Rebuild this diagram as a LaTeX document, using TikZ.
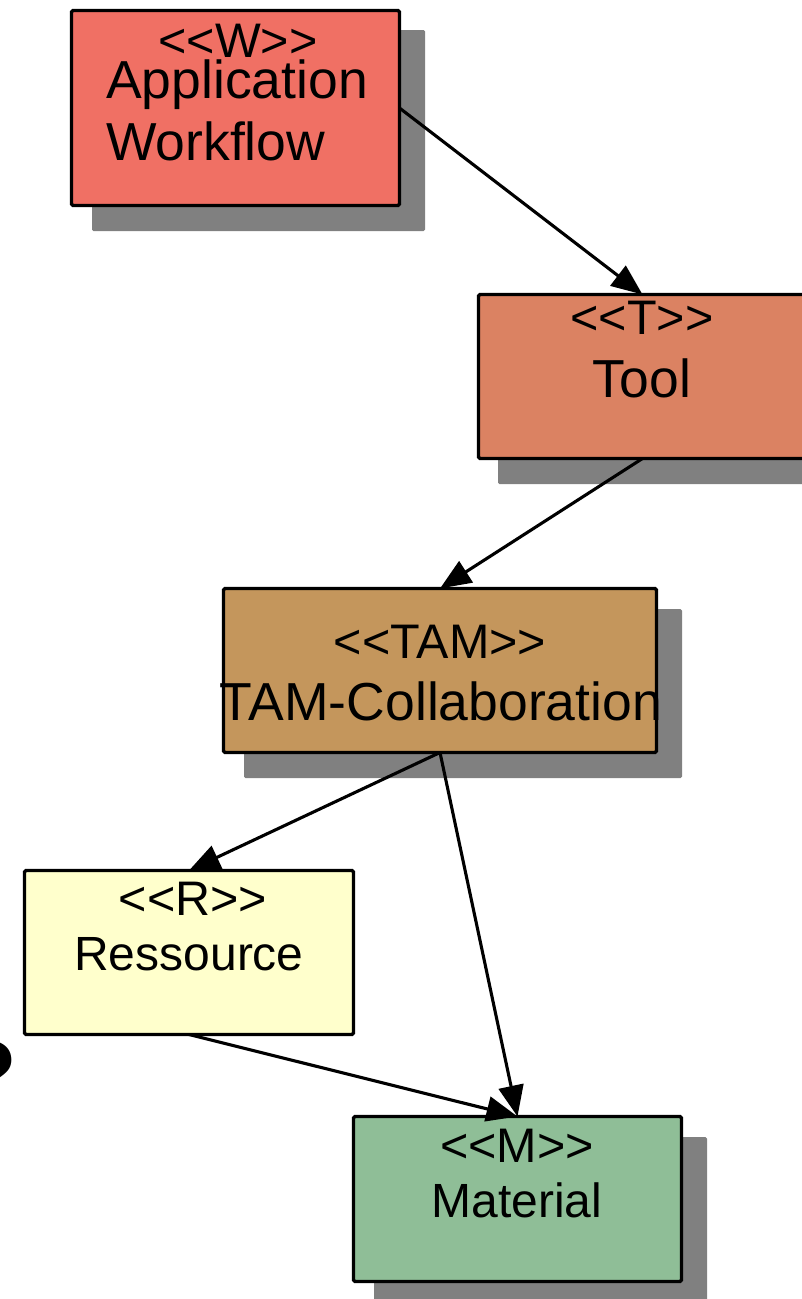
\documentclass[tikz,border=0pt]{standalone}
\usepackage{fontspec}
\setmainfont{Liberation Sans}
\newfontfamily\qfont{Liberation Sans}
\usetikzlibrary{arrows.meta}
\definecolor{cW}{RGB}{240,112,100}
\definecolor{cT}{RGB}{219,130,98}
\definecolor{cTAM}{RGB}{196,150,92}
\definecolor{cR}{RGB}{255,255,204}
\definecolor{cM}{RGB}{143,190,151}
\definecolor{shadowgray}{RGB}{128,128,128}
\newcommand{\stereo}[1]{<\kern0pt<#1>\kern0pt>}
\tikzset{
  box/.style={draw=black, line width=3.3pt, rounded corners=1.5pt, inner sep=0pt, outer sep=0pt},
  shd/.style={fill=shadowgray, rounded corners=1.5pt},
  sttext/.style={inner sep=0pt, anchor=base, font=\fontsize{48.5}{58}\selectfont},
  bigtext/.style={inner sep=0pt, anchor=base, font=\fontsize{53.5}{64}\selectfont},
  midtext/.style={inner sep=0pt, anchor=base, font=\fontsize{48}{58}\selectfont},
  conn/.style={line width=3.1pt, -{Triangle[length=31pt,width=25pt]}}
}
\begin{document}
\begin{tikzpicture}[x=1pt,y=-1pt]
\useasboundingbox (0,0) rectangle (801,1299);
% shadows
\fill[shd] (92,30) rectangle (425,231);
\fill[shd] (498,316) rectangle (830,484);
\fill[shd] (244,609) rectangle (682,778);
\fill[shd] (374,1137) rectangle (707,1305);
% boxes
\node[box, fill=cW, minimum width=328pt, minimum height=195pt] (W) at (235.5,108) {};
\node[box, fill=cT, minimum width=328pt, minimum height=164pt] (T) at (642.5,376.5) {};
\node[box, fill=cTAM, minimum width=433pt, minimum height=164pt] (TAM) at (440,670.5) {};
\node[box, fill=cR, minimum width=329pt, minimum height=164pt] (R) at (189,952.5) {};
\node[box, fill=cM, minimum width=328pt, minimum height=165pt] (M) at (517.5,1199) {};
% texts
\node[sttext] (Wst) at (238,57) {\stereo{W}};
\node[bigtext, anchor=base west] (Wn1) at (106,98) {Application};
\node[bigtext, anchor=base west] (Wn2) at (106,160) {Workflow};
\node[sttext] (Tst) at (642,334) {\stereo{T}};
\node[bigtext] (Tn) at (642,397) {Tool};
\node[sttext] (TAMst) at (440,658) {\stereo{TAM}};
\node[bigtext] (TAMn) at (441,720) {TAM-Collaboration};
\node[sttext] (Rst) at (193,915) {\stereo{R}};
\node[midtext] (Rn) at (189,970) {Ressource};
\node[sttext] (Mst) at (517,1162) {\stereo{M}};
\node[midtext] (Mn) at (517,1217) {Material};
% clipped glyph at the left edge
\node[inner sep=0pt, anchor=base west, font=\qfont\bfseries\fontsize{100}{110}\selectfont] (q) at (-44,1110) {?};
% connectors
\draw[conn] (W.east) -- (T.north);
\draw[conn] (T.south) -- (TAM.north);
\draw[conn] (TAM.south) -- (R.north);
\draw[conn] (TAM.south) -- (M.north);
\draw[conn] (R.south) -- (M.north);
\end{tikzpicture}
\end{document}
